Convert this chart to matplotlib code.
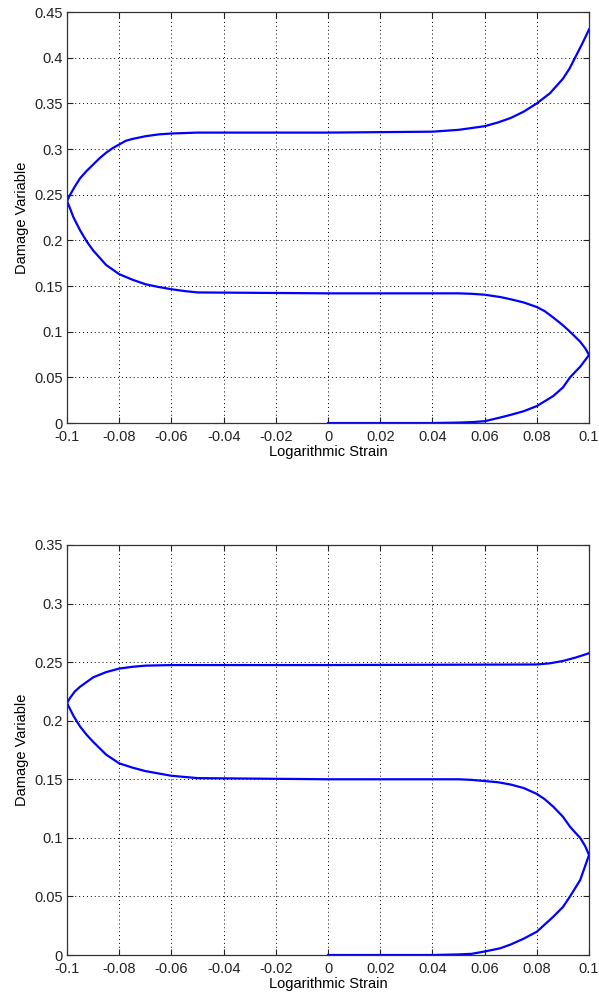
import matplotlib.pyplot as plt
from matplotlib.ticker import FuncFormatter

# Upper plot: loading 0 -> 0.1, unloading to -0.1, reloading to 0.1
top_load_x = [0, 0.01, 0.02, 0.03, 0.04, 0.05, 0.055, 0.06, 0.0659, 0.07, 0.075, 0.08, 0.0863, 0.09, 0.0927, 0.0966, 0.1]
top_load_y = [0, 0, 0, 0, 0, 0.0005, 0.001, 0.002, 0.006, 0.009, 0.013, 0.0186, 0.0296, 0.039, 0.05, 0.0617, 0.0745]

top_back_x = [0.1, 0.0985, 0.0966, 0.0945, 0.0927, 0.09, 0.0863, 0.083, 0.08, 0.075, 0.07, 0.0659, 0.06, 0.055,
              0.05, 0.0, -0.05, -0.055, -0.06, -0.065, -0.07, -0.075, -0.08, -0.085, -0.09, -0.0925, -0.095,
              -0.0975, -0.099, -0.1]
top_back_y = [0.0745, 0.082, 0.089, 0.095, 0.1, 0.107, 0.1155, 0.1225, 0.127, 0.132, 0.1355, 0.138, 0.1405, 0.1415,
              0.142, 0.142, 0.143, 0.1445, 0.1465, 0.149, 0.152, 0.157, 0.163, 0.173, 0.189, 0.199, 0.211,
              0.225, 0.236, 0.243]

top_fwd_x = [-0.1, -0.099, -0.097, -0.095, -0.0925, -0.09, -0.0875, -0.085, -0.0825, -0.08, -0.0775, -0.075,
             -0.07, -0.065, -0.06, -0.05, 0.0, 0.04, 0.05, 0.055, 0.06, 0.065, 0.07, 0.075, 0.08, 0.085, 0.09,
             0.0925, 0.095, 0.0975, 0.1]
top_fwd_y = [0.243, 0.249, 0.259, 0.268, 0.276, 0.283, 0.290, 0.296, 0.301, 0.305, 0.309, 0.311,
             0.314, 0.316, 0.317, 0.318, 0.318, 0.319, 0.321, 0.323, 0.325, 0.329, 0.334, 0.341, 0.350, 0.361, 0.377,
             0.388, 0.402, 0.416, 0.431]

# Lower plot, same cycle
bot_load_x = [0, 0.01, 0.02, 0.03, 0.04, 0.05, 0.055, 0.06, 0.0659, 0.07, 0.075, 0.08, 0.0863, 0.09, 0.0927, 0.0966, 0.1]
bot_load_y = [0, 0, 0, 0, 0, 0.0005, 0.001, 0.003, 0.0057, 0.009, 0.014, 0.0199, 0.0327, 0.041, 0.05, 0.064, 0.0854]

bot_back_x = [0.1, 0.0985, 0.0966, 0.0945, 0.0927, 0.09, 0.0863, 0.083, 0.08, 0.075, 0.07, 0.065, 0.06, 0.055,
              0.05, 0.0, -0.05, -0.06, -0.065, -0.07, -0.075, -0.08, -0.085, -0.09, -0.0925, -0.095, -0.0975, -0.1]
bot_back_y = [0.0854, 0.093, 0.1, 0.105, 0.1095, 0.118, 0.1266, 0.133, 0.1375, 0.1425, 0.1455, 0.1475, 0.1485, 0.1495,
              0.150, 0.150, 0.151, 0.153, 0.155, 0.157, 0.160, 0.1636, 0.171, 0.182, 0.188, 0.195, 0.204, 0.215]

bot_fwd_x = [-0.1, -0.099, -0.097, -0.095, -0.0925, -0.09, -0.085, -0.08, -0.075, -0.07, -0.06, 0.0, 0.08,
             0.085, 0.09, 0.095, 0.1]
bot_fwd_y = [0.215, 0.219, 0.225, 0.229, 0.233, 0.237, 0.2415, 0.2445, 0.246, 0.247, 0.2475, 0.2475, 0.248,
             0.249, 0.251, 0.254, 0.2576]

x_ticks = [-0.1, -0.08, -0.06, -0.04, -0.02, 0, 0.02, 0.04, 0.06, 0.08, 0.1]
top_y_ticks = [0, 0.05, 0.1, 0.15, 0.2, 0.25, 0.3, 0.35, 0.4, 0.45]
bot_y_ticks = [0, 0.05, 0.1, 0.15, 0.2, 0.25, 0.3, 0.35]

plt.rcParams['font.family'] = ['Liberation Sans', 'DejaVu Sans']
plt.rcParams['font.size'] = 10.5
plt.rcParams['axes.unicode_minus'] = False

fig = plt.figure(figsize=(5.99, 10.02), dpi=100)
ax1 = fig.add_axes([0.1119, 0.5778, 0.8715, 0.4102])
ax2 = fig.add_axes([0.1119, 0.0469, 0.8715, 0.4092])

fmt = FuncFormatter(lambda v, p: '{:g}'.format(round(v, 4)))

panels = [
    (ax1, [(top_load_x, top_load_y), (top_back_x, top_back_y), (top_fwd_x, top_fwd_y)], top_y_ticks),
    (ax2, [(bot_load_x, bot_load_y), (bot_back_x, bot_back_y), (bot_fwd_x, bot_fwd_y)], bot_y_ticks),
]

for ax, segs, yt in panels:
    for sx, sy in segs:
        ax.plot(sx, sy, color='#0000ff', linewidth=1.6, solid_joinstyle='round')
    ax.set_xlim(-0.1, 0.1)
    ax.set_ylim(yt[0], yt[-1])
    ax.set_xticks(x_ticks)
    ax.set_yticks(yt)
    ax.xaxis.set_major_formatter(fmt)
    ax.yaxis.set_major_formatter(fmt)
    ax.grid(True, color='k', linestyle=(0, (1, 3)), linewidth=0.7)
    ax.tick_params(direction='in', top=True, right=True, length=4, width=0.8, colors='#222222')
    ax.tick_params(axis='x', pad=5)
    ax.tick_params(axis='y', pad=3)
    for s in ax.spines.values():
        s.set_linewidth(0.9)
        s.set_color('#333333')
    ax.set_xlabel('Logarithmic Strain', labelpad=1)
    ax.set_ylabel('Damage Variable', labelpad=4)

fig.savefig('out.png', dpi=100, facecolor='white')
